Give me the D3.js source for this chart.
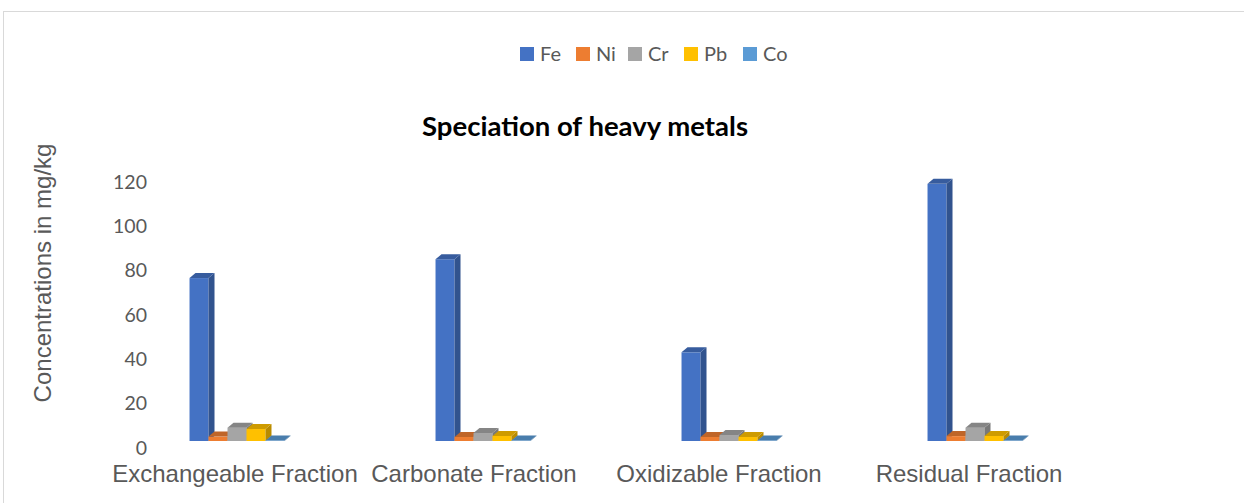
<!DOCTYPE html>
<html>
<head>
<meta charset="utf-8">
<script src="https://cdn.jsdelivr.net/npm/d3@7"></script>
<style>
body { margin: 0; background: #fff; }
.tick-label { font-family: Lato, "Open Sans", sans-serif; font-size: 19.5px; fill: #595959; }
.cat-label { font-family: "Liberation Sans", Arial, sans-serif; font-size: 24px; fill: #595959; }
.axis-title { font-family: "Liberation Sans", Arial, sans-serif; font-size: 24px; fill: #595959; }
.chart-title { font-family: Lato, "Open Sans", sans-serif; font-size: 26px; font-weight: bold; fill: #000; }
.legend-text { font-family: Lato, "Open Sans", sans-serif; font-size: 20px; fill: #595959; }
</style>
</head>
<body>
<svg id="chart" width="1244" height="503"></svg>
<script>
var categories = ["Exchangeable Fraction", "Carbonate Fraction", "Oxidizable Fraction", "Residual Fraction"];
var metals = ["Fe", "Ni", "Cr", "Pb", "Co"];
var fe = [73.5, 82, 40, 116];
var ni = [2, 1.8, 1.8, 2.2];
var cr = [6, 3.6, 2.7, 6];
var pb = [5.4, 2.3, 1.8, 2.3];
var co = [0.2, 0.2, 0.2, 0.2];
var yTicks = [0, 20, 40, 60, 80, 100, 120];
var colors = ["#4472C4", "#ED7D31", "#A5A5A5", "#FFC000", "#5B9BD5"];

var series = [fe, ni, cr, pb, co];
var svg = d3.select("#chart");

// outer frame
svg.append("rect")
    .attr("x", 3.5).attr("y", 11.5)
    .attr("width", 1260).attr("height", 520)
    .attr("fill", "none")
    .attr("stroke", "#d9d9d9");

var y = d3.scaleLinear().domain([0, 120]).range([441, 175]);
var x0 = d3.scaleBand().domain(categories).range([114, 1098])
    .paddingInner(0.614).paddingOuter(0.307);
var x1 = d3.scaleBand().domain(metals).range([0, x0.bandwidth()]);

var dx = 6, dy = 5;

// y tick labels
svg.selectAll(".tick-label")
    .data(yTicks)
    .enter()
    .append("text")
    .attr("class", "tick-label")
    .attr("x", 147)
    .attr("y", function (d) { return y(d) + 7; })
    .attr("dy", "0.35em")
    .style("text-anchor", "end")
    .text(function (d) { return d; });

// bars
categories.forEach(function (cat, ci) {
    var g = svg.append("g").attr("transform", "translate(" + x0(cat) + ",0)");
    metals.forEach(function (m, mi) {
        var v = series[mi][ci];
        var xl = x1(m), w = x1.bandwidth();
        var top = y(v), base = y(0);
        var c = d3.color(colors[mi]);
        g.append("rect")
            .attr("x", xl).attr("y", top)
            .attr("width", w).attr("height", base - top)
            .attr("fill", colors[mi]);
        g.append("polygon")
            .attr("points", [[xl + w, top], [xl + w + dx, top - dy], [xl + w + dx, base - dy], [xl + w, base]].join(" "))
            .attr("fill", c.darker(0.9));
        g.append("polygon")
            .attr("points", [[xl, top], [xl + dx, top - dy], [xl + w + dx, top - dy], [xl + w, top]].join(" "))
            .attr("fill", c.darker(0.6));
    });
});

// category labels (slightly left of the bar groups, as in the 3D view)
var labelShift = [-2, -9, -10, -6];
svg.selectAll(".cat-label")
    .data(categories)
    .enter()
    .append("text")
    .attr("class", "cat-label")
    .attr("x", function (d, i) { return x0(d) + x0.bandwidth() / 2 + labelShift[i]; })
    .attr("y", 482)
    .style("text-anchor", "middle")
    .text(function (d) { return d; });

// axis title
svg.append("text")
    .attr("class", "axis-title")
    .attr("transform", "translate(51,273) rotate(-90)")
    .style("text-anchor", "middle")
    .text("Concentrations in mg/kg");

// chart title
svg.append("text")
    .attr("class", "chart-title")
    .attr("x", 585).attr("y", 136)
    .style("text-anchor", "middle")
    .attr("textLength", 326)
    .attr("lengthAdjust", "spacingAndGlyphs")
    .text("Speciation of heavy metals");

// legend
var legendX = [520, 576, 628, 684, 743];
var lg = svg.selectAll(".legend")
    .data(metals)
    .enter()
    .append("g")
    .attr("transform", function (d, i) { return "translate(" + legendX[i] + ",47)"; });
lg.append("rect").attr("width", 14).attr("height", 14)
    .attr("fill", function (d, i) { return colors[i]; });
lg.append("text").attr("class", "legend-text")
    .attr("x", 20).attr("y", 7).attr("dy", "0.35em")
    .text(function (d) { return d; });
</script>
</body>
</html>
